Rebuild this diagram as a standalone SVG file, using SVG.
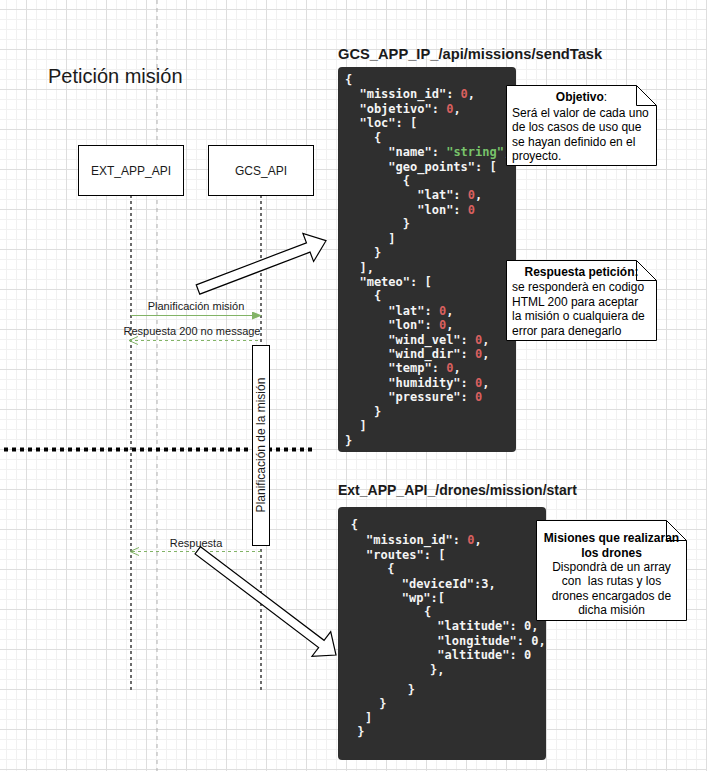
<svg xmlns="http://www.w3.org/2000/svg" width="707" height="771" viewBox="0 0 707 771">
<defs>
<pattern id="grid" patternUnits="userSpaceOnUse" x="26" y="9" width="40" height="40">
<rect x="0" y="0" width="40" height="40" fill="#ffffff"/>
<rect x="10" y="0" width="1" height="40" fill="#f1f1f1"/>
<rect x="20" y="0" width="1" height="40" fill="#f1f1f1"/>
<rect x="30" y="0" width="1" height="40" fill="#f1f1f1"/>
<rect x="0" y="10" width="40" height="1" fill="#f1f1f1"/>
<rect x="0" y="20" width="40" height="1" fill="#f1f1f1"/>
<rect x="0" y="30" width="40" height="1" fill="#f1f1f1"/>
<rect x="0" y="0" width="1" height="40" fill="#dedede"/>
<rect x="0" y="0" width="40" height="1" fill="#dedede"/>
</pattern>
<marker id="solidHead" markerWidth="10" markerHeight="8" refX="9" refY="4" orient="auto" markerUnits="userSpaceOnUse">
<path d="M0,0 L10,4 L0,8 Z" fill="#82b366"/>
</marker>
<marker id="openHead" markerWidth="10" markerHeight="10" refX="9" refY="5" orient="auto" markerUnits="userSpaceOnUse">
<path d="M0,1 L9,5 L0,9" fill="none" stroke="#82b366" stroke-width="1"/>
</marker>
</defs>
<style>
.lbl{font-family:"Liberation Sans",Arial,sans-serif;fill:#1a1a1a}
.box{fill:#ffffff;stroke:#000000;stroke-width:1}
.life{stroke:#6b6b6b;stroke-width:2;stroke-dasharray:3 3;fill:none}
.code{font-family:"DejaVu Sans Mono",monospace;font-weight:bold;font-size:12px;fill:#f4f4f4;white-space:pre}
.num{fill:#d9605f}
.str{fill:#78c36a}
.note{fill:#ffffff;stroke:#000000;stroke-width:1}
.ntxt{font-family:"Liberation Sans",Arial,sans-serif;font-size:12px;fill:#000000}
.blk{fill:#ffffff;stroke:#000000;stroke-width:1.2}
</style>
<rect x="0" y="0" width="707" height="771" fill="url(#grid)"/>
<line x1="157" y1="0" x2="157" y2="771" stroke="#b0b0b0" stroke-width="1" stroke-dasharray="4 4"/>

<g id="title">
<text class="lbl" x="48" y="83" font-size="20" fill="#000">Petición misión</text>
</g>

<g id="lifelines">
<line class="life" x1="131" y1="195" x2="131" y2="690"/>
<line class="life" x1="261" y1="195" x2="261" y2="690"/>
</g>

<g id="ext_app_api">
<rect class="box" x="78.5" y="145.5" width="105" height="50"/>
<text class="lbl" x="131" y="174.5" font-size="12" text-anchor="middle">EXT_APP_API</text>
</g>
<g id="gcs_api">
<rect class="box" x="208.5" y="145.5" width="105" height="50"/>
<text class="lbl" x="261" y="174.5" font-size="12" text-anchor="middle">GCS_API</text>
</g>

<g id="separator">
<line x1="4" y1="449.5" x2="312" y2="449.5" stroke="#000" stroke-width="4" stroke-dasharray="4 4"/>
</g>

<g id="activation">
<rect class="box" x="252.5" y="345.5" width="17" height="200"/>
<text class="lbl" font-size="12" text-anchor="middle" transform="translate(265,445) rotate(-90)">Planificación de la misión</text>
</g>

<g id="connectors">
<line x1="131" y1="315.5" x2="261" y2="315.5" stroke="#82b366" stroke-width="1" marker-end="url(#solidHead)"/>
<text class="lbl" x="196" y="309.5" font-size="11" text-anchor="middle">Planificación misión</text>
<line x1="258" y1="340.5" x2="129" y2="340.5" stroke="#82b366" stroke-width="1" stroke-dasharray="3 3" marker-end="url(#openHead)"/>
<text class="lbl" x="192" y="334.5" font-size="11" text-anchor="middle">Respuesta 200 no message</text>
<line x1="261" y1="551.5" x2="130" y2="551.5" stroke="#82b366" stroke-width="1" stroke-dasharray="3 3" marker-end="url(#openHead)"/>
<text class="lbl" x="196" y="546.5" font-size="11" text-anchor="middle">Respuesta</text>
<polygon class="blk" transform="translate(198,289.5) rotate(-20.87)" points="0,-5 118,-5 118,-15 137,0 118,15 118,5 0,5"/>
<polygon class="blk" transform="translate(197.8,550.3) rotate(37.15)" points="0,-4.5 155,-4.5 155,-15.5 173.4,0 155,15.5 155,4.5 0,4.5"/>
</g>

<g id="sendTask">
<text class="lbl" x="338" y="59" font-size="14.7" font-weight="bold" fill="#000">GCS_APP_IP_/api/missions/sendTask</text>
<rect x="338" y="67" width="178" height="385" rx="4" fill="#2f2f2f"/>
<text class="code" xml:space="preserve">
<tspan x="345" y="84">{</tspan>
<tspan x="345" y="98.4">  "mission_id": <tspan class="num">0</tspan>,</tspan>
<tspan x="345" y="112.8">  "objetivo": <tspan class="num">0</tspan>,</tspan>
<tspan x="345" y="127.3">  "loc": [</tspan>
<tspan x="345" y="141.7">    {</tspan>
<tspan x="345" y="156.1">      "name": <tspan class="str">"string"</tspan>,</tspan>
<tspan x="345" y="170.5">      "geo_points": [</tspan>
<tspan x="345" y="184.9">        {</tspan>
<tspan x="345" y="199.4">          "lat": <tspan class="num">0</tspan>,</tspan>
<tspan x="345" y="213.8">          "lon": <tspan class="num">0</tspan></tspan>
<tspan x="345" y="228.2">        }</tspan>
<tspan x="345" y="242.6">      ]</tspan>
<tspan x="345" y="257">    }</tspan>
<tspan x="345" y="271.5">  ],</tspan>
<tspan x="345" y="285.9">  "meteo": [</tspan>
<tspan x="345" y="300.3">    {</tspan>
<tspan x="345" y="314.7">      "lat": <tspan class="num">0</tspan>,</tspan>
<tspan x="345" y="329.1">      "lon": <tspan class="num">0</tspan>,</tspan>
<tspan x="345" y="343.6">      "wind_vel": <tspan class="num">0</tspan>,</tspan>
<tspan x="345" y="358">      "wind_dir": <tspan class="num">0</tspan>,</tspan>
<tspan x="345" y="372.4">      "temp": <tspan class="num">0</tspan>,</tspan>
<tspan x="345" y="386.8">      "humidity": <tspan class="num">0</tspan>,</tspan>
<tspan x="345" y="401.2">      "pressure": <tspan class="num">0</tspan></tspan>
<tspan x="345" y="415.7">    }</tspan>
<tspan x="345" y="430.1">  ]</tspan>
<tspan x="345" y="444.5">}</tspan>
</text>
</g>

<g id="note_objetivo">
<path class="note" d="M506.5,85.5 H636.5 L656.5,105.5 V165.5 H506.5 Z"/>
<path d="M636.5,85.5 V105.5 H656.5" fill="none" stroke="#000" stroke-width="1"/>
<text class="ntxt" x="581.5" y="101" text-anchor="middle"><tspan font-weight="bold">Objetivo</tspan>:</text>
<text class="ntxt" x="512" y="116.5">Será el valor de cada uno</text>
<text class="ntxt" x="512" y="131">de los casos de uso que</text>
<text class="ntxt" x="512" y="145.5">se hayan definido en el</text>
<text class="ntxt" x="512" y="160">proyecto.</text>
</g>

<g id="note_respuesta">
<path class="note" d="M506.5,260.5 H636.5 L656.5,280.5 V340.5 H506.5 Z"/>
<path d="M636.5,260.5 V280.5 H656.5" fill="none" stroke="#000" stroke-width="1"/>
<text class="ntxt" x="581.5" y="275.5" text-anchor="middle" font-weight="bold">Respuesta petición:</text>
<text class="ntxt" x="512" y="291">se responderà en codigo</text>
<text class="ntxt" x="512" y="305.5">HTML 200 para aceptar</text>
<text class="ntxt" x="512" y="320">la misión o cualquiera de</text>
<text class="ntxt" x="512" y="334.5">error para denegarlo</text>
</g>

<g id="missionStart">
<text class="lbl" x="338" y="495" font-size="14" font-weight="bold" fill="#000">Ext_APP_API_/drones/mission/start</text>
<rect x="338" y="507" width="208" height="253" rx="4" fill="#2f2f2f"/>
<text class="code" xml:space="preserve">
<tspan x="350.7" y="529">{</tspan>
<tspan x="366" y="544">"mission_id": <tspan class="num">0</tspan>,</tspan>
<tspan x="366" y="559">"routes": [</tspan>
<tspan x="387.3" y="572.5">{</tspan>
<tspan x="401.7" y="588">"deviceId":3,</tspan>
<tspan x="401.7" y="602">"wp":[</tspan>
<tspan x="424" y="616">{</tspan>
<tspan x="437.3" y="630">"latitude": 0,</tspan>
<tspan x="437.3" y="644.7">"longitude": 0,</tspan>
<tspan x="437.3" y="659">"altitude": 0</tspan>
<tspan x="430" y="674">},</tspan>
<tspan x="407.7" y="694">}</tspan>
<tspan x="379.3" y="708">}</tspan>
<tspan x="365" y="722">]</tspan>
<tspan x="357.3" y="736">}</tspan>
</text>
</g>

<g id="note_misiones">
<path class="note" d="M536.5,520.5 H666.5 L686.5,540.5 V620.5 H536.5 Z"/>
<path d="M666.5,520.5 V540.5 H686.5" fill="none" stroke="#000" stroke-width="1"/>
<text class="ntxt" x="611.5" y="542.3" text-anchor="middle" font-weight="bold">Misiones que realizaran</text>
<text class="ntxt" x="611.5" y="556.5" text-anchor="middle" font-weight="bold">los drones</text>
<text class="ntxt" x="611.5" y="570.7" text-anchor="middle">Dispondrà de un array</text>
<text class="ntxt" x="611.5" y="585.2" text-anchor="middle" xml:space="preserve">con  las rutas y los</text>
<text class="ntxt" x="611.5" y="599.7" text-anchor="middle">drones encargados de</text>
<text class="ntxt" x="611.5" y="614.2" text-anchor="middle">dicha misión</text>
</g>
</svg>
